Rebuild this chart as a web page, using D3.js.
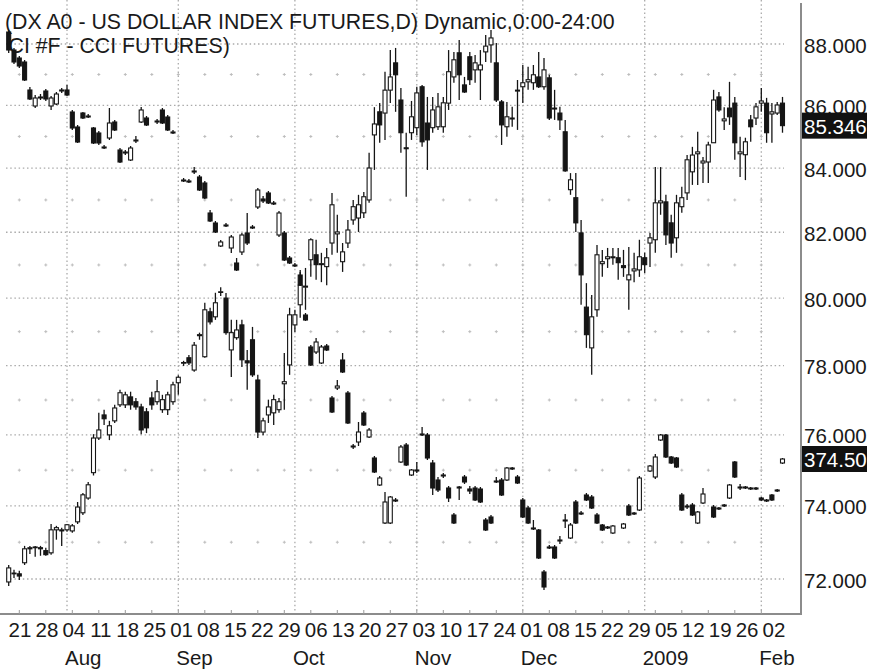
<!DOCTYPE html>
<html><head><meta charset="utf-8">
<script src="https://cdn.jsdelivr.net/npm/d3@7"></script>
<style>
html,body{margin:0;padding:0;background:#fff;}
svg{display:block;font-family:"Liberation Sans",Arial,Helvetica,sans-serif;}
</style></head><body>
<svg id="chart" width="873" height="672"></svg>
<script>
// ---------------- DATA ----------------
const titleLine1 = "(DX A0 - US DOLLAR INDEX FUTURES,D) Dynamic,0:00-24:00";
const titleLine2 = "CI #F - CCI FUTURES)";
const firstDay = "2008-07-17", lastDay = "2009-02-06";
const weekLabels = ["21","28","04","11","18","25","01","08","15","22","29","06","13","20","27","03","10","17","24","01","08","15","22","29","05","12","19","26","02"];
const monthLabels = ["Aug","Sep","Oct","Nov","Dec","2009","Feb"];
const dxTicks = [72,74,76,78,80,82,84,86,88];
const dxMinor = [73,75,77,79,81,83,85,87];
const dxLast = 85.346, cciLast = 374.50;

const dxOpen = [71.92,72.16,72.14,72.44,72.82,72.85,72.85,72.77,72.71,73.34,73.31,73.34,73.31,73.56,73.81,74.22,74.93,75.91,76.57,76.00,
76.40,76.86,76.86,77.09,76.95,76.80,76.66,77.06,76.95,76.72,76.72,76.95,77.50,78.07,78.23,77.87,78.88,78.26,79.59,79.44,
80.17,80.00,78.46,78.82,79.20,78.14,78.76,77.58,76.08,76.57,76.63,76.72,77.47,78.02,79.20,79.80,80.33,81.16,81.31,81.01,
80.95,81.67,81.95,81.10,81.67,82.38,82.44,82.60,83.00,85.05,85.79,85.75,86.49,87.38,86.17,84.64,85.12,85.28,86.60,85.43,
85.28,85.31,85.31,86.07,86.92,87.71,86.66,87.58,87.15,87.15,87.74,87.97,87.38,86.11,85.31,85.56,86.46,86.60,86.76,86.73,
86.92,86.60,86.89,85.91,85.75,85.15,83.32,83.07,81.98,79.73,78.52,79.65,81.04,81.19,81.22,81.22,80.98,80.55,80.82,80.85,
81.22,81.67,81.77,82.91,82.94,82.29,81.83,82.79,83.22,83.88,84.45,84.16,84.19,84.80,86.27,85.50,85.91,86.07,84.45,84.42,
85.53,85.59,86.07,86.07,85.72,85.75,86.07];
const dxHigh = [72.38,72.25,72.22,72.90,72.90,72.90,72.90,72.85,73.50,73.45,73.40,73.50,73.50,74.11,74.36,74.67,76.02,76.63,76.72,76.40,
76.86,77.30,77.24,77.24,77.06,76.89,76.77,77.24,77.58,77.15,77.24,77.53,77.72,78.14,78.31,78.69,78.97,79.86,79.71,80.16,
80.33,80.15,79.35,79.35,79.35,78.46,79.14,77.73,76.49,77.01,77.15,77.06,78.37,79.71,79.65,80.85,80.91,81.82,81.77,81.37,
81.52,83.22,82.54,81.67,82.38,83.00,83.16,83.25,84.48,85.94,86.07,87.09,87.80,87.87,86.56,85.12,86.14,86.60,86.66,86.27,
86.27,86.40,86.27,87.80,87.74,88.13,86.92,87.74,87.64,87.80,88.30,88.46,88.03,86.17,86.11,85.95,86.82,87.31,87.25,87.31,
87.74,87.54,86.99,86.50,85.95,85.53,83.84,83.84,82.38,80.45,80.09,81.61,81.46,81.52,81.52,81.52,81.46,81.55,81.37,81.77,
81.37,81.98,84.03,84.03,83.16,82.54,83.16,83.41,84.41,84.67,85.15,84.35,84.83,86.50,86.43,85.94,86.76,86.27,84.99,84.96,
85.69,86.07,86.56,86.24,86.07,86.11,86.27];
const dxLow = [71.81,72.03,71.97,72.38,72.68,72.60,72.63,72.63,72.66,73.07,72.90,73.29,73.26,73.50,73.75,74.17,74.85,75.85,76.28,75.85,
76.34,76.80,76.77,76.72,76.72,76.02,76.05,76.72,76.86,76.63,76.57,76.86,77.15,77.99,78.02,77.82,78.76,78.23,79.21,79.35,
80.06,78.91,77.67,78.76,77.96,77.30,77.67,75.91,75.99,76.34,76.28,76.63,76.72,77.73,78.99,79.41,79.65,80.64,80.55,80.48,
80.39,81.31,81.37,80.79,81.52,82.23,82.01,82.44,82.91,83.94,84.80,84.89,86.07,85.79,84.48,83.10,84.89,85.05,84.67,83.94,
85.12,85.21,85.12,85.85,86.73,86.17,86.40,86.66,86.73,86.17,87.41,87.38,86.11,84.73,84.99,85.31,85.21,86.07,86.50,86.50,
86.56,86.50,85.53,85.53,85.21,83.88,83.16,82.01,79.80,78.52,77.73,79.44,80.64,80.91,81.01,80.55,80.64,79.65,80.48,80.64,
80.76,80.94,81.37,82.54,81.61,81.22,81.37,82.60,83.00,83.47,83.47,83.53,83.53,84.80,85.79,85.21,85.37,84.26,83.72,83.62,
84.83,85.37,85.79,84.80,84.80,85.69,85.12];
const dxClose = [72.30,72.14,72.08,72.82,72.85,72.87,72.82,72.66,73.34,73.40,73.34,73.48,73.45,73.97,74.31,74.59,75.91,76.14,76.46,76.26,
76.77,77.21,77.15,76.86,76.80,76.14,76.20,76.86,77.24,77.01,77.15,77.44,77.66,78.09,78.08,78.60,78.91,79.65,79.29,79.86,
80.19,78.97,78.97,79.05,78.17,78.08,77.73,76.08,76.40,76.80,77.01,76.95,77.53,79.50,79.50,80.39,80.36,81.77,81.01,81.04,
81.22,82.85,82.01,81.40,82.07,82.79,82.85,83.10,84.00,85.40,85.37,86.49,86.92,86.99,85.12,84.61,85.63,86.40,84.83,84.89,
85.85,85.95,86.08,87.09,87.48,86.99,86.43,86.83,87.38,87.31,87.93,88.20,86.17,85.37,85.63,85.59,86.49,86.73,86.83,86.99,
86.60,87.15,85.59,85.88,85.53,83.91,83.63,82.29,80.70,78.91,79.44,81.31,81.10,81.25,81.25,81.07,80.92,80.70,80.88,81.25,
81.01,81.83,82.91,82.97,81.92,81.67,82.91,83.07,84.26,84.41,84.51,84.22,84.73,86.17,85.85,85.56,85.63,84.80,84.51,84.83,
85.31,85.95,86.14,85.12,85.79,86.01,85.346];

const cciOpen = [588,579,575,573,559,551,555.5,558.5,551,552,559,559,548,540.5,547.5,546,540,537.5,530.5,535,
543,529,528,524,533.5,543,545,null,543.5,549,545.5,538,null,514,513.5,518,515.5,512.5,497.5,492.5,
481,491.5,480,472.5,478,487.5,490.5,500.5,504.5,507.5,502.5,486.5,487.5,475,471.5,466.5,446.5,430.5,428,422.5,
431,405,410,424,407.5,380.5,383,397.5,385.5,375,361.5,342.5,342.5,354,373,381.5,366.5,368.5,386.5,386.5,
372.5,364,366.5,360,346.5,360,365.5,359.5,360,359.5,344,345.5,363,364,364,370,365.5,354,350,339.5,
339,318,330.5,330.5,333.5,343.5,335,353,347.5,356.5,355.5,346.5,341.5,340.5,337.5,null,340,351,347.5,349,
null,368.5,365.5,384,386.5,375.5,375,356.5,351,351.5,342.5,352.5,null,350.5,350,351.5,355,373,360,360.5,
360,360,355,354,356.5,359,372.5];
const cciHigh = [589,580,576,574,560.5,556.5,557,559.5,556,558,560,561.5,549,541.5,548,547,540.5,538.5,531.5,550,
544,530,529,531,536,550.5,546,null,544.5,550,546.5,539,null,515,514.5,520.5,516.5,513.5,499,493.5,
484,492.5,486.5,475,487.5,497.5,491.5,510,506,508.5,503.5,498.5,488.5,476,472.5,468,447.5,431.5,435,431.5,
432,406,414,427.5,408.5,382,393,398.5,390,376,366,358,356,355,381.5,382.5,369.5,373,390.5,387.5,
374,365.5,367.5,361,347.5,361,366.5,361,361,360.5,345,346.5,365.5,365,370.5,370.5,366.5,355,351,344,
339.5,319,331.5,331.5,336,347,342.5,354,348.5,357.5,356.5,347.5,342,341,341.5,null,342.5,352,348,366,
null,371.5,377,387,387,376,375.5,357.5,352,352.5,348.5,360,null,351.5,350.5,352,362,373.5,362,361,
360.5,360.5,355.5,354.5,357,359.5,375];
const cciLow = [577.5,572,570,563.5,554,550,554,553.5,549,551.5,557.5,556,539,532.5,544.5,545,532,531.5,529.5,534,
538.5,522.5,526.5,523.5,532.5,542.5,541,null,542,542,538.5,537,null,513,512.5,517,508.5,504.5,493,487.5,
480.5,490.5,477.5,468.5,476.5,481.5,489.5,499.5,502.5,502,501.5,485.5,473.5,472,470.5,461,443.5,421,427,422,
428.5,397.5,409,417.5,392,379.5,381,391,385,367.5,361,342,342,353,372.5,371,366,367.5,386,374,
356.5,358,365,353,342,354,362,357,353.5,352.5,338.5,342,362.5,356,363.5,369,362,345,342,339,
324.5,309,329.5,324.5,332,340,334.5,342,346.5,353.5,349.5,342,338.5,339.5,337,null,339.5,346,346.5,348.5,
null,368,364.5,383.5,375,372,370,348.5,349.5,346,342,352,null,345,349,350.5,354.5,365,359,359.5,
359,359,353.5,353,353.5,358,372];
const cciClose = [579,573,571,564,554.5,555,555,554.5,555,557,558.5,556.5,540,533,545,545.5,532.5,532.5,530,542.5,
539,523,527.5,530,534,549,541.5,null,543,542.5,539,537.5,null,513.5,513,518.5,509,505,493.5,488,
483,491,485.5,469,486.5,482.5,490,509,503.5,502.5,502,497.5,474,472.5,471,461.5,444,421.5,433,430.5,
429,398,411,418,392.5,381,388,391.5,389,368,365,353,355.5,353.5,380.5,371.5,369,369,387,375,
360,359,366,355,342.5,360.5,363,358.5,354,353,339,342.5,363.5,356.5,370,369.5,362.5,345.5,342.5,340,
325,310.5,330,325,334,344,341.5,342.5,347,354,350,342.5,339,340,341,null,342,346.5,347,365,
null,371,375.5,386.5,375.5,372.5,370.5,349,350.5,346.5,348,357,null,345.5,349.5,351,361.5,365.5,360.5,360,
359.5,359.5,354,353.5,354,358.5,374.5];

// ---------------- BUILD ----------------
const parse = d3.timeParse("%Y-%m-%d");
const days = d3.timeDay.range(parse(firstDay), d3.timeDay.offset(parse(lastDay), 1))
  .filter(d => d.getDay() !== 0 && d.getDay() !== 6);
const fmt = d3.timeFormat("%Y-%m-%d");
const keys = days.map(fmt);

const svg = d3.select("#chart");
const plotRight = 801, plotBottom = 614;

const x = d3.scalePoint().domain(keys).range([8.7, 782.5]);
const y = d3.scaleLog().domain([72, 88]).range([579, 44]);
const y2 = d3.scaleLinear().domain([604, 297]).range([0, 614]);
const labelX = d3.scaleLinear().domain([0, weekLabels.length - 1]).range([20, 774]);

const monthStarts = keys.filter((k, i) => i > 0 && days[i].getMonth() !== days[i-1].getMonth());
const mondays = keys.filter((k, i) => days[i].getDay() === 1);

const gridColor = "#aaaaaa";
const g = svg.append("g");

// horizontal dotted grid
g.selectAll("line.hg").data(dxTicks).join("line")
  .attr("x1", 6).attr("x2", 784)
  .attr("y1", d => y(d)).attr("y2", d => y(d))
  .attr("stroke", gridColor).attr("stroke-width", 1.3).attr("stroke-dasharray", "1.5,2.7");
// vertical month grid
g.selectAll("line.vg").data(monthStarts).join("line")
  .attr("x1", d => x(d)).attr("x2", d => x(d))
  .attr("y1", 0).attr("y2", plotBottom)
  .attr("stroke", gridColor).attr("stroke-width", 1.3).attr("stroke-dasharray", "1.5,2.7");
// minor plus marks
const plusPts = [];
mondays.forEach(m => dxMinor.forEach(v => plusPts.push([x(m), y(v)])));
g.selectAll("path.plus").data(plusPts).join("path")
  .attr("d", d => `M${d[0]-1.5},${d[1]}h3M${d[0]},${d[1]-1.5}v3`)
  .attr("stroke", "#bdbdbd").attr("stroke-width", 1);

// title
svg.append("text").attr("x", 5).attr("y", 28.5).attr("font-size", 21.3).attr("fill", "#1a1a1a").text(titleLine1);
svg.append("text").attr("x", 8.5).attr("y", 53).attr("font-size", 21.3).attr("fill", "#1a1a1a").text(titleLine2);

// candles
function drawCandles(open, high, low, close, ys, cls) {
  const data = keys.map((k, i) => ({k, o: open[i], h: high[i], l: low[i], c: close[i]}))
    .filter(d => d.o != null);
  const cg = svg.append("g").attr("class", cls);
  cg.selectAll("line").data(data).join("line")
    .attr("x1", d => x(d.k)).attr("x2", d => x(d.k))
    .attr("y1", d => ys(d.h)).attr("y2", d => ys(d.l))
    .attr("stroke", "#151515").attr("stroke-width", 1.3);
  cg.selectAll("rect").data(data).join("rect")
    .attr("x", d => x(d.k) - 2)
    .attr("width", 4)
    .attr("y", d => Math.min(ys(d.o), ys(d.c)))
    .attr("height", d => Math.max(Math.abs(ys(d.o) - ys(d.c)), 0.6))
    .attr("fill", d => d.c >= d.o ? "#ffffff" : "#151515")
    .attr("stroke", "#151515").attr("stroke-width", 1.1);
}
drawCandles(dxOpen, dxHigh, dxLow, dxClose, y, "dx");
drawCandles(cciOpen, cciHigh, cciLow, cciClose, y2, "cci");

// axes lines
svg.append("line").attr("x1", plotRight).attr("x2", plotRight).attr("y1", 3).attr("y2", plotBottom + 1)
  .attr("stroke", "#8c8c8c").attr("stroke-width", 2);
svg.append("line").attr("x1", 0).attr("x2", plotRight + 1).attr("y1", plotBottom).attr("y2", plotBottom)
  .attr("stroke", "#8c8c8c").attr("stroke-width", 2);
// bottom ticks at mondays
svg.selectAll("line.bt").data(mondays).join("line")
  .attr("x1", d => x(d)).attr("x2", d => x(d))
  .attr("y1", plotBottom - 4).attr("y2", plotBottom)
  .attr("stroke", "#9a9a9a").attr("stroke-width", 1);

// right axis labels
svg.selectAll("text.yl").data(dxTicks).join("text")
  .attr("x", 804).attr("y", d => y(d) + 8.5)
  .attr("font-size", 20.5).attr("fill", "#1a1a1a")
  .text(d => d3.format(".3f")(d));

// last price boxes (drawn over the axis labels, as in the original)
function priceBox(yy, label) {
  svg.append("rect").attr("x", 802).attr("y", yy - 13).attr("width", 65).attr("height", 26).attr("fill", "#111");
  svg.append("text").attr("x", 804).attr("y", yy + 8).attr("font-size", 20.5).attr("fill", "#fff").text(label);
}
priceBox(y(dxLast), d3.format(".3f")(dxLast));
priceBox(y2(cciLast), d3.format(".2f")(cciLast));

// x labels
svg.selectAll("text.wl").data(weekLabels).join("text")
  .attr("x", (d, i) => labelX(i)).attr("y", 637)
  .attr("text-anchor", "middle").attr("font-size", 20.5).attr("fill", "#1a1a1a")
  .text(d => d);
svg.selectAll("text.ml").data(monthLabels).join("text")
  .attr("x", (d, i) => x(monthStarts[i]) - 2).attr("y", 665)
  .attr("font-size", 20.5).attr("fill", "#1a1a1a")
  .text(d => d);
</script>
</body></html>
